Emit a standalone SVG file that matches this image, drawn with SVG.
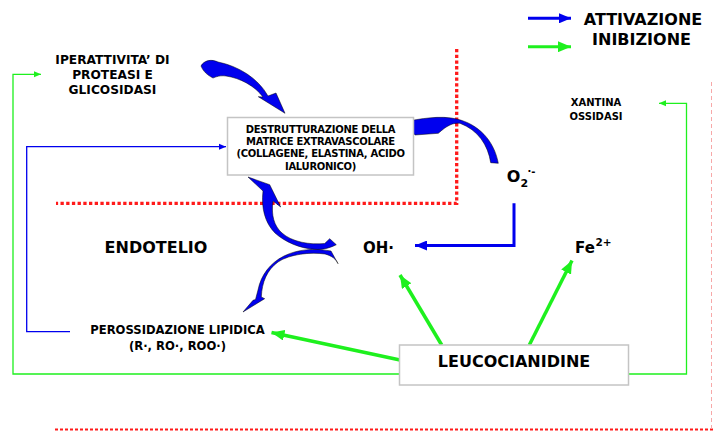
<svg xmlns="http://www.w3.org/2000/svg" width="713" height="431" viewBox="0 0 713 431">
<defs>
<style>
text{font-family:"DejaVu Sans",Verdana,sans-serif;font-weight:bold;fill:#000}
.box{fill:#fff;stroke:#c4c4c4;stroke-width:1.5}
.g{stroke:#1ef01e;fill:none}
.b{stroke:#0000ee;fill:none}
.ca{fill:#0000ee;stroke:#000;stroke-width:0.5;stroke-linejoin:round}
.red{stroke:#ff1a1a;fill:none}
</style>
<marker id="ahG" markerWidth="13" markerHeight="11" refX="13" refY="5.5" orient="auto" markerUnits="userSpaceOnUse"><path d="M0,0 L13,5.5 L0,11 Z" fill="#1ef01e"/></marker>
<marker id="ahGs" markerWidth="7" markerHeight="7" refX="7" refY="3.5" orient="auto" markerUnits="userSpaceOnUse"><path d="M0,0.5 L7,3.5 L0,6.5 Z" fill="#1ef01e"/></marker>
<marker id="ahB" markerWidth="12" markerHeight="10" refX="12" refY="5" orient="auto" markerUnits="userSpaceOnUse"><path d="M0,0 L12,5 L0,10 Z" fill="#0000ee"/></marker>
<marker id="ahBs" markerWidth="7" markerHeight="7" refX="7" refY="3.5" orient="auto" markerUnits="userSpaceOnUse"><path d="M0,0.5 L7,3.5 L0,6.5 Z" fill="#0000ee"/></marker>
</defs>
<rect width="713" height="431" fill="#fff"/>

<g id="boundaries">
<path class="red" d="M456.7,49 V203.3 H56" stroke-width="3.3" stroke-dasharray="3.3 2.4"/>
<path class="red" d="M55,429.5 H713" stroke-width="2" stroke-dasharray="3 2"/>
<path d="M711.5,82 V431" stroke="#f7a8a8" stroke-width="1" stroke-dasharray="4 3" fill="none"/>
</g>

<g id="legend">
<line class="b" x1="528" y1="18.3" x2="571" y2="18.3" stroke-width="3" marker-end="url(#ahB)"/>
<line class="g" x1="528" y1="46.7" x2="571" y2="46.7" stroke-width="3" marker-end="url(#ahG)"/>
<text x="643" y="25" font-size="16" text-anchor="middle">ATTIVAZIONE</text>
<text x="641.5" y="45" font-size="16" text-anchor="middle">INIBIZIONE</text>
</g>

<g id="connectors">
<polyline class="g" points="400,374 13,374 13,74.3 41,74.3" stroke-width="1.3" marker-end="url(#ahGs)"/>
<polyline class="g" points="628,374 686.5,374 686.5,103.3 659,103.3" stroke-width="1.3" marker-end="url(#ahGs)"/>
<polyline class="b" points="70,331.7 26.7,331.7 26.7,146.7 226,146.7" stroke-width="1.3" marker-end="url(#ahBs)"/>
<polyline class="b" points="514,203.3 514,245.5 415,245.5" stroke-width="3" marker-end="url(#ahB)"/>
<line class="g" x1="441.7" y1="345" x2="400" y2="275" stroke-width="3.5" marker-end="url(#ahG)"/>
<line class="g" x1="529.3" y1="345" x2="572" y2="260.5" stroke-width="3.5" marker-end="url(#ahG)"/>
<line class="g" x1="400" y1="360" x2="271.5" y2="332.5" stroke-width="3.5" marker-end="url(#ahG)"/>
<path class="ca" d="M201,66 C204,60 212,59 218,62 C238,66 258,78 268,96 L276,93 L285,113.3 L258.3,96.7 L263,97 C255,86 240,78 226,76 C218,75 214,78 213,78 C207,75 203,71 201,66 Z"/>
<path class="ca" d="M404,121.7 C420,119 440,115 456.7,119 C478,124 494,140 498.3,163.3 L490.7,162.7 C488,145 478,130 460,123.3 C453,122.5 447,125.5 438.3,133.3 L415,135 Z"/>
<path class="ca" d="M248,177 L269.7,184.7 L280.7,207 L273,201 C271,215 274,226 282,233 C292,242 310,245 324.7,243.5 L329.7,238.7 L336.3,244.7 C330,248 322,250 314.7,249.3 C300,248.5 285,242 275,233 C265,223 261,208 263,191 Z"/>
<path class="ca" d="M331,251 C315,248 298,249 284,256 C270,263 261,275 258,290 L255.5,299.5 L253,300.3 L243,312 L264.7,298.7 L261.3,297 C262,282 267,270 278,262 C290,254 310,252 325,254 C332,256 336,259 338,263.7 Z"/>
</g>

<g id="iperattivita">
<text font-size="12.2" text-anchor="middle"><tspan x="112.5" y="63.5">IPERATTIVITA’ DI</tspan><tspan x="112.5" y="78.5">PROTEASI E</tspan><tspan x="112.5" y="93.5">GLICOSIDASI</tspan></text>
</g>

<g id="destrutturazione">
<rect class="box" x="227.5" y="117.5" width="186" height="57.5"/>
<text font-size="10" text-anchor="middle" letter-spacing="-0.3"><tspan x="320.5" y="132.7">DESTRUTTURAZIONE DELLA</tspan><tspan x="320.5" y="145">MATRICE EXTRAVASCOLARE</tspan><tspan x="320.5" y="157.3">(COLLAGENE, ELASTINA, ACIDO</tspan><tspan x="320.5" y="169.8">IALURONICO)</tspan></text>
</g>

<g id="xantina">
<text font-size="10" text-anchor="middle"><tspan x="596" y="106">XANTINA</tspan><tspan x="596" y="120">OSSIDASI</tspan></text>
</g>

<g id="o2">
<text x="506.7" y="181.7" font-size="16">O</text>
<text x="520.5" y="186.5" font-size="11">2</text>
<text x="527.5" y="175" font-size="10">·-</text>
</g>

<g id="endotelio"><text x="156" y="252.7" font-size="16" text-anchor="middle">ENDOTELIO</text></g>
<g id="oh"><text x="363" y="252.7" font-size="15">OH·</text></g>
<g id="fe">
<text x="575" y="252.7" font-size="15">Fe</text>
<text x="595.5" y="245.5" font-size="10.5">2+</text>
</g>

<g id="perossidazione">
<text font-size="11.6" text-anchor="middle"><tspan x="177.5" y="334">PEROSSIDAZIONE LIPIDICA</tspan><tspan x="177.5" y="350">(R·, RO·, ROO·)</tspan></text>
</g>

<g id="leucocianidine">
<rect class="box" x="399.5" y="345" width="229" height="40"/>
<text x="514" y="366.7" font-size="16" text-anchor="middle">LEUCOCIANIDINE</text>
</g>
</svg>
